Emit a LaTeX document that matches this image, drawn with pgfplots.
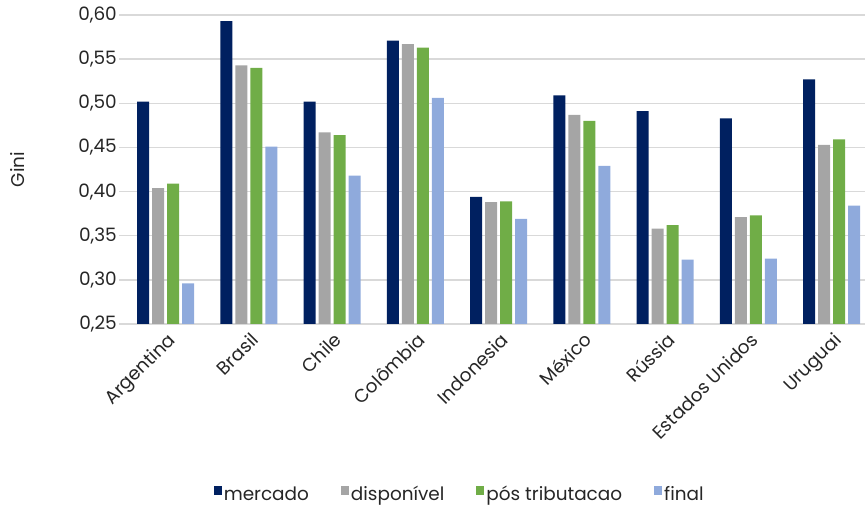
\documentclass[border=0pt]{standalone}
\usepackage{pgfplots}
\pgfplotsset{compat=1.18}
\usepackage{fontspec}
\setmainfont{Poppins}
\definecolor{cmerc}{HTML}{002060}
\definecolor{cdisp}{HTML}{A5A5A5}
\definecolor{cpos}{HTML}{70AD47}
\definecolor{cfin}{HTML}{8FAADC}
\definecolor{cgrid}{HTML}{D9D9D9}
\begin{document}
\begin{tikzpicture}[x=1bp,y=1bp]
\path[use as bounding box] (0,0) rectangle (865,506);
\begin{axis}[
  at={(124bp,182bp)}, anchor=south west,
  scale only axis, width=741bp, height=309bp,
  xmin=-0.5, xmax=8.4, ymin=0.25, ymax=0.60,
  ytick={0.25,0.30,...,0.61},
  yticklabel={\pgfmathprintnumber[fixed,fixed zerofill,precision=2,use comma]{\tick}},
  /pgf/number format/assume math mode=true,
  xtick={0,...,8},
  xticklabels={Argentina,Brasil,Chile,Colômbia,Indonesia,México,Rússia,Estados Unidos,Uruguai},
  x tick label style={rotate=45, anchor=north east, inner sep=1bp, yshift=-1bp},
  y tick label style={inner sep=2bp},
  tick label style={font=\fontsize{18.5}{21}\selectfont, text=black!85},
  ymajorgrids, grid style={cgrid, line width=1.3bp},
  axis x line*=bottom, axis y line*=left,
  x axis line style={draw=cgrid, line width=1.3bp},
  y axis line style={draw=none},
  major tick length=5bp,
  xtick style={draw=none},
  ytick style={draw=cgrid, line width=1.3bp},
  tick align=outside,
  ylabel={Gini}, ylabel style={font=\fontsize{18.5}{21}\selectfont, text=black!85, at={(-106bp,0.5)}, anchor=center},
  ybar, bar width=12bp,
  legend columns=4,
  legend style={at={(0.453,-0.55)}, anchor=center, draw=none, font=\fontsize{18.5}{21}\selectfont, text=black!85,
    /tikz/every even column/.append style={column sep=30bp}, inner sep=0pt},
  legend image code/.code={\fill[#1] (0bp,-1bp) rectangle (8bp,8bp);},
]
\addplot[fill=cmerc, draw=none, bar shift=-22.5bp] coordinates {(0,0.502)(1,0.593)(2,0.502)(3,0.571)(4,0.394)(5,0.509)(6,0.491)(7,0.483)(8,0.527)};
\addplot[fill=cdisp, draw=none, bar shift=-7.5bp] coordinates {(0,0.404)(1,0.543)(2,0.467)(3,0.567)(4,0.388)(5,0.487)(6,0.358)(7,0.371)(8,0.453)};
\addplot[fill=cpos, draw=none, bar shift=7.5bp] coordinates {(0,0.409)(1,0.540)(2,0.464)(3,0.563)(4,0.389)(5,0.480)(6,0.362)(7,0.373)(8,0.459)};
\addplot[fill=cfin, draw=none, bar shift=22.5bp] coordinates {(0,0.296)(1,0.451)(2,0.418)(3,0.506)(4,0.369)(5,0.429)(6,0.323)(7,0.324)(8,0.384)};
\legend{mercado,disponível,pós tributacao,final}
\end{axis}
\end{tikzpicture}
\end{document}
